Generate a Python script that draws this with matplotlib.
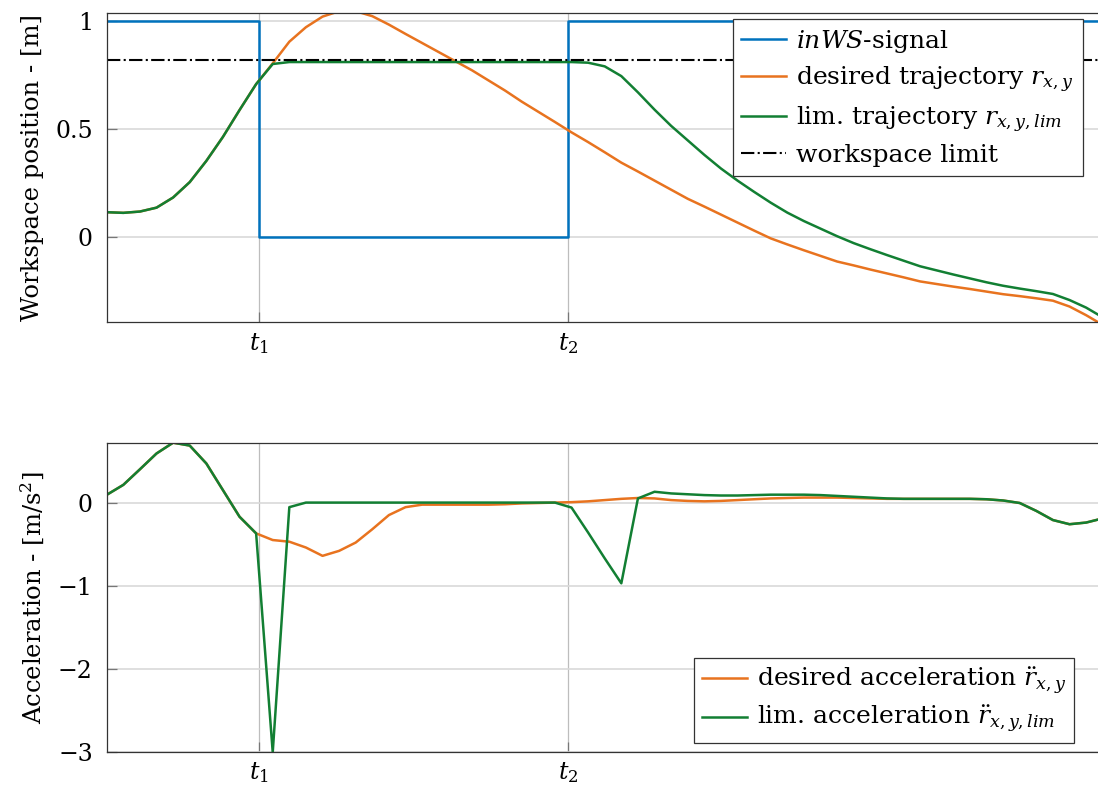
import numpy as np
import matplotlib.pyplot as plt

plt.rcParams['font.family'] = ['DejaVu Serif']
plt.rcParams['mathtext.fontset'] = 'dejavuserif'
plt.rcParams['font.size'] = 17.5

# sample index and the two switching instants
t = np.arange(61)
t1, t2 = 9.16, 27.8

# inWS flag switches off at t1 and back on at t2
ws_time = [0, t1, t1, t2, t2, 60]
ws_signal = [1, 1, 0, 0, 1, 1]
ws_limit = 0.82

r_des = [0.116, 0.113, 0.119, 0.137, 0.184, 0.255, 0.353, 0.464, 0.588, 0.708,
         0.804, 0.904, 0.971, 1.02, 1.045, 1.045, 1.022, 0.983, 0.94, 0.898,
         0.856, 0.814, 0.772, 0.725, 0.678, 0.627, 0.58, 0.533, 0.485, 0.44,
         0.393, 0.345, 0.304, 0.262, 0.22, 0.178, 0.142, 0.105, 0.068, 0.031,
         -0.005, -0.033, -0.06, -0.086, -0.112, -0.13, -0.149, -0.167, -0.185, -0.204,
         -0.216, -0.228, -0.239, -0.251, -0.263, -0.272, -0.282, -0.293, -0.32, -0.36,
         -0.405]
r_lim = [0.116, 0.113, 0.119, 0.137, 0.184, 0.255, 0.353, 0.464, 0.588, 0.708,
         0.801, 0.81, 0.81, 0.81, 0.81, 0.81, 0.81, 0.81, 0.81, 0.81,
         0.81, 0.81, 0.81, 0.81, 0.81, 0.81, 0.81, 0.81, 0.81, 0.807,
         0.79, 0.745, 0.67, 0.59, 0.515, 0.448, 0.381, 0.318, 0.262, 0.21,
         0.16, 0.114, 0.075, 0.04, 0.005, -0.027, -0.055, -0.082, -0.108, -0.134,
         -0.153, -0.172, -0.19, -0.208, -0.224, -0.237, -0.249, -0.262, -0.29, -0.325,
         -0.37]

a_des = [0.093, 0.213, 0.40, 0.59, 0.72, 0.685, 0.47, 0.15, -0.17, -0.37,
         -0.45, -0.47, -0.54, -0.64, -0.58, -0.48, -0.32, -0.15, -0.055, -0.025,
         -0.025, -0.025, -0.025, -0.025, -0.02, -0.01, -0.005, 0.0, 0.005, 0.015,
         0.03, 0.045, 0.055, 0.05, 0.03, 0.02, 0.015, 0.02, 0.03, 0.04,
         0.05, 0.055, 0.06, 0.06, 0.06, 0.055, 0.05, 0.045, 0.045, 0.045,
         0.045, 0.045, 0.045, 0.04, 0.025, -0.005, -0.1, -0.21, -0.26, -0.24,
         -0.19]
a_lim = [0.093, 0.213, 0.40, 0.59, 0.72, 0.685, 0.47, 0.15, -0.17, -0.37,
         -3.0, -0.055, 0.0, 0.0, 0.0, 0.0, 0.0, 0.0, 0.0, 0.0,
         0.0, 0.0, 0.0, 0.0, 0.0, 0.0, 0.0, 0.0, -0.06, -0.36,
         -0.67, -0.97, 0.05, 0.13, 0.11, 0.10, 0.09, 0.085, 0.085, 0.09,
         0.095, 0.095, 0.095, 0.09, 0.08, 0.07, 0.06, 0.05, 0.045, 0.045,
         0.045, 0.045, 0.045, 0.04, 0.025, -0.005, -0.1, -0.21, -0.26, -0.24,
         -0.19]

blue = '#0072bd'
orange = '#e8731f'
green = '#127f33'

fig = plt.figure(figsize=(10.98, 7.85), dpi=100)
ax1 = fig.add_axes([0.0972, 0.5894, 0.9071, 0.3944])
ax2 = fig.add_axes([0.0972, 0.0417, 0.9071, 0.3944])

ax1.plot(ws_time, ws_signal, color=blue, lw=1.8, label='$inWS$-signal')
ax1.plot(t, r_des, color=orange, lw=1.8, label='desired trajectory $r_{x,y}$')
ax1.plot(t, r_lim, color=green, lw=1.8, label='lim. trajectory $r_{x,y,lim}$')
ax1.axhline(ws_limit, color='black', lw=1.5, ls='-.', label='workspace limit')
ax1.set_ylim(-0.393, 1.038)
ax1.set_yticks([0, 0.5, 1])
ax1.set_yticklabels(['0', '0.5', '1'])
ax1.set_ylabel('Workspace position - [m]', labelpad=8)

ax2.plot(t, a_des, color=orange, lw=1.8, label=r'desired acceleration $\ddot{r}_{x,y}$')
ax2.plot(t, a_lim, color=green, lw=1.8, label=r'lim. acceleration $\ddot{r}_{x,y,lim}$')
ax2.set_ylim(-3, 0.72)
ax2.set_yticks([-3, -2, -1, 0])
ax2.set_ylabel('Acceleration - [m/s$^2$]', labelpad=8)

for ax in (ax1, ax2):
    ax.set_xlim(0, 60)
    ax.set_xticks([t1, t2])
    ax.set_xticklabels(['$t_1$', '$t_2$'])
    ax.xaxis.grid(True, color='#bdbdbd', lw=0.9)
    ax.yaxis.grid(True, color='#d9d9d9', lw=1.2)
    ax.set_axisbelow(True)
    ax.tick_params(direction='in', length=7.5, width=0.9, color='#777777',
                   pad=6, labelsize=17)
    ax.tick_params(axis='y', pad=10)
    for s in ax.spines.values():
        s.set_color('#333333')
        s.set_linewidth(0.9)

ax1.legend(loc='upper right', bbox_to_anchor=(0.980, 0.9797), borderaxespad=0,
           fancybox=False, framealpha=1, edgecolor='#333333',
           handlelength=1.8, handletextpad=0.4, labelspacing=0.38,
           borderpad=0.35, fontsize=18).get_frame().set_linewidth(0.9)
ax2.legend(loc='lower right', bbox_to_anchor=(0.971, 0.030), borderaxespad=0,
           fancybox=False, framealpha=1, edgecolor='#333333',
           handlelength=1.8, handletextpad=0.4, labelspacing=0.3,
           borderpad=0.3, fontsize=18).get_frame().set_linewidth(0.9)

fig.savefig('out.png', dpi=100)
